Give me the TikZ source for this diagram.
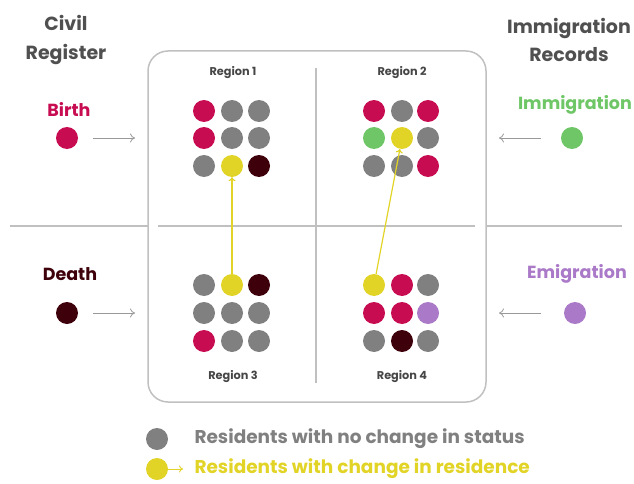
\documentclass[tikz,border=0pt]{standalone}
\usepackage{fontspec}
\setmainfont{Poppins}
\usetikzlibrary{arrows.meta}
\definecolor{crimson}{RGB}{200,12,82}
\definecolor{stone}{RGB}{128,128,128}
\definecolor{maroon}{RGB}{62,0,10}
\definecolor{citron}{RGB}{226,212,38}
\definecolor{leaf}{RGB}{110,198,102}
\definecolor{lilac}{RGB}{170,122,200}
\definecolor{ink}{RGB}{80,80,80}
\definecolor{rule}{RGB}{192,192,192}
\definecolor{labelgrey}{RGB}{70,70,70}
\tikzset{
  dot/.style={circle,fill=#1,minimum size=22pt,inner sep=0pt,draw=none},
  title/.style={text=ink,font=\bfseries\fontsize{19}{28.5}\selectfont,align=center},
  kind/.style={font=\bfseries\fontsize{17.5}{20}\selectfont},
  region/.style={text=labelgrey,font=\bfseries\fontsize{11.3}{13}\selectfont},
  legend/.style={font=\bfseries\fontsize{18.5}{20}\selectfont,anchor=west},
  feed/.style={draw=stone!80,line width=0.8pt,-{To[length=5pt,width=9pt]}},
  move/.style={draw=citron,line width=1.2pt,-{To[length=4pt,width=7pt]}},
  divider/.style={draw=rule,line width=1.5pt}
}
\begin{document}
\begin{tikzpicture}[x=1pt,y=-1pt]
\useasboundingbox (0,0) rectangle (634,484);
% frame and dividers
\draw[divider,rounded corners=20pt] (148,51) rectangle (486,402);
\draw[divider] (316,68) -- (316,383);
\draw[divider] (158,226) -- (475,226);
\draw[divider] (10,226) -- (148,226);
\draw[divider] (486,226) -- (622,226);
% headings
\node[title] (civ) at (66,40) {Civil\\Register};
\node[title] (imr) at (569,40) {Immigration\\Records};
% region labels
\node[region] (r1) at (233,73) {Region 1};
\node[region] (r2) at (402,73) {Region 2};
\node[region] (r3) at (233,377) {Region 3};
\node[region] (r4) at (402,377) {Region 4};
% event sources
\node[kind,text=crimson] (birthT) at (69,109) {Birth};
\node[dot=crimson] (birth) at (67,138) {};
\coordinate (bA) at (93,138); \coordinate (bB) at (135,138);
\draw[feed] (bA) -- (bB);
\node[kind,text=maroon] (deathT) at (70,274) {Death};
\node[dot=maroon] (death) at (67,313) {};
\coordinate (dA) at (93,313); \coordinate (dB) at (135,313);
\draw[feed] (dA) -- (dB);
\node[kind,text=leaf] (immT) at (575,105) {Immigration};
\node[dot=leaf] (imm) at (572,138) {};
\coordinate (iA) at (541,138); \coordinate (iB) at (499,138);
\draw[feed] (iA) -- (iB);
\node[kind,text=lilac] (emiT) at (577,274) {Emigration};
\node[dot=lilac] (emi) at (575,313) {};
\coordinate (eA) at (541,313); \coordinate (eB) at (499,313);
\draw[feed] (eA) -- (eB);
% region 1
\node[dot=crimson] (a11) at (204,111) {};
\node[dot=stone] (a12) at (232,111) {};
\node[dot=stone] (a13) at (259,111) {};
\node[dot=crimson] (a21) at (204,138) {};
\node[dot=stone] (a22) at (232,138) {};
\node[dot=stone] (a23) at (259,138) {};
\node[dot=stone] (a31) at (204,166) {};
\node[dot=citron] (a32) at (232,166) {};
\node[dot=maroon] (a33) at (259,166) {};
% region 2
\node[dot=crimson] (b11) at (374,111) {};
\node[dot=stone] (b12) at (402,111) {};
\node[dot=crimson] (b13) at (428,111) {};
\node[dot=leaf] (b21) at (374,138) {};
\node[dot=citron] (b22) at (402,138) {};
\node[dot=stone] (b23) at (428,138) {};
\node[dot=stone] (b31) at (374,166) {};
\node[dot=stone] (b32) at (402,166) {};
\node[dot=crimson] (b33) at (428,166) {};
% region 3
\node[dot=stone] (c11) at (204,285) {};
\node[dot=citron] (c12) at (232,285) {};
\node[dot=maroon] (c13) at (259,285) {};
\node[dot=stone] (c21) at (204,313) {};
\node[dot=stone] (c22) at (232,313) {};
\node[dot=stone] (c23) at (259,313) {};
\node[dot=crimson] (c31) at (204,341) {};
\node[dot=stone] (c32) at (232,341) {};
\node[dot=stone] (c33) at (259,341) {};
% region 4
\node[dot=citron] (d11) at (374,285) {};
\node[dot=crimson] (d12) at (402,285) {};
\node[dot=stone] (d13) at (428,285) {};
\node[dot=crimson] (d21) at (374,313) {};
\node[dot=crimson] (d22) at (402,313) {};
\node[dot=lilac] (d23) at (428,313) {};
\node[dot=stone] (d31) at (374,341) {};
\node[dot=maroon] (d32) at (402,341) {};
\node[dot=stone] (d33) at (428,341) {};
% moves between regions
\draw[move] (c12) -- (a32);
\draw[move] (d11) -- (b22);
% legend
\node[dot=stone] (lg1) at (157,439) {};
\node[legend,text=stone] (lt1) at (191,439) {Residents with no change in status};
\node[dot=citron] (lg2) at (157,469) {};
\coordinate (lgA) at (183,469);
\draw[move,line width=0.9pt] (lg2) -- (lgA);
\node[legend,text=citron] (lt2) at (191,469) {Residents with change in residence};
\end{tikzpicture}
\end{document}
